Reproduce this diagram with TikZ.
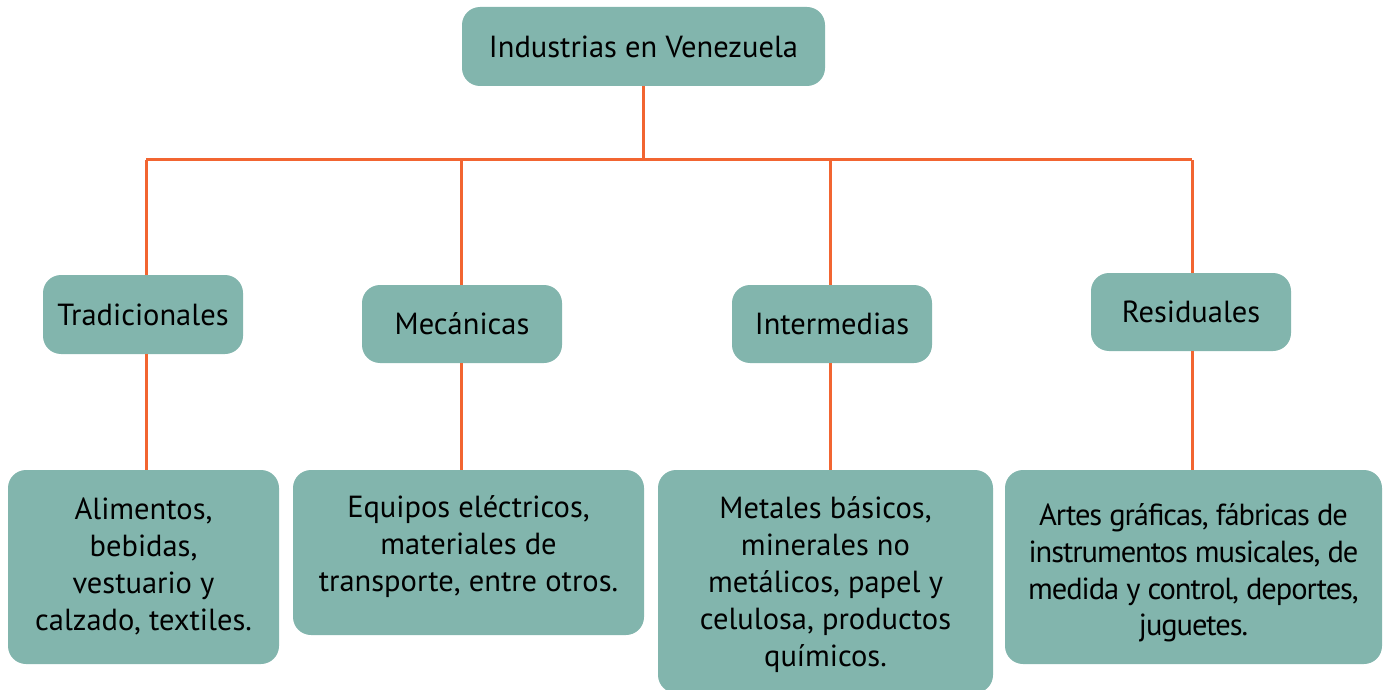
\documentclass[tikz,border=0pt]{standalone}
\usepackage{fontspec}
\setmainfont{PT Sans}
\newfontfamily\tightfont[LetterSpace=-3.5]{PT Sans}
\definecolor{boxfill}{HTML}{82B5AD}
\definecolor{linkcol}{HTML}{F26531}
\begin{document}
\begin{tikzpicture}[x=1pt,y=-1pt,
  box/.style={draw=none,fill=boxfill,rounded corners=18pt,inner sep=0pt,align=center,font=\fontsize{30.5}{37}\selectfont},
  txt/.style={inner sep=0pt,align=center,font=\fontsize{30.5}{37}\selectfont},
  link/.style={draw=linkcol,line width=3pt}]
\useasboundingbox (0,0) rectangle (1387,690);
\begin{scope}
\clip (0,0) rectangle (1387,690);
\node[box,minimum width=363pt,minimum height=79pt] (top) at (643.5,46.5) {Industrias en Venezuela};
\node[box,minimum width=200pt,minimum height=79pt] (trad) at (143,314.5) {Tradicionales};
\node[box,minimum width=200pt,minimum height=78pt] (mec) at (462,324) {Mecánicas};
\node[box,minimum width=200pt,minimum height=78pt] (inter) at (832,324) {Intermedias};
\node[box,minimum width=200pt,minimum height=78pt] (resid) at (1191,312) {Residuales};
\node[box,minimum width=271pt,minimum height=194pt] (b1) at (143.5,567) {};
\node[txt] (b1t) at (143.5,566) {Alimentos,\\bebidas,\\vestuario y\\calzado, textiles.};
\node[box,minimum width=351pt,minimum height=165pt] (b2) at (468.5,552.5) {};
\node[txt] (b2t) at (468.5,547) {Equipos eléctricos,\\materiales de\\transporte, entre otros.};
\node[box,minimum width=335pt,minimum height=223pt] (b3) at (825.5,581.5) {};
\node[txt] (b3t) at (825.5,585) {Metales básicos,\\minerales no\\metálicos, papel y\\celulosa, productos\\químicos.};
\node[box,minimum width=377pt,minimum height=194pt] (b4) at (1193.5,567) {};
\node[txt,font=\tightfont\fontsize{30.5}{36.7}\selectfont] (b4t) at (1193.5,573) {Artes gráficas, fábricas de\\instrumentos musicales, de\\medida y control, deportes,\\juguetes.};
\end{scope}
\coordinate (hub) at (643.5,160);
\coordinate (h1) at (146,160);
\coordinate (h2) at (461,160);
\coordinate (h3) at (830,160);
\coordinate (h4) at (1192,160);
\draw[link] (top.south) -- (hub);
\draw[link] (h1) -- (h4);
\draw[link] (h1) -- (h1 |- trad.north);
\draw[link] (h2) -- (h2 |- mec.north);
\draw[link] (h3) -- (h3 |- inter.north);
\draw[link] (h4) -- (h4 |- resid.north);
\draw[link] (h1 |- trad.south) -- (h1 |- b1.north);
\draw[link] (h2 |- mec.south) -- (h2 |- b2.north);
\draw[link] (h3 |- inter.south) -- (h3 |- b3.north);
\draw[link] (h4 |- resid.south) -- (h4 |- b4.north);
\end{tikzpicture}
\end{document}
